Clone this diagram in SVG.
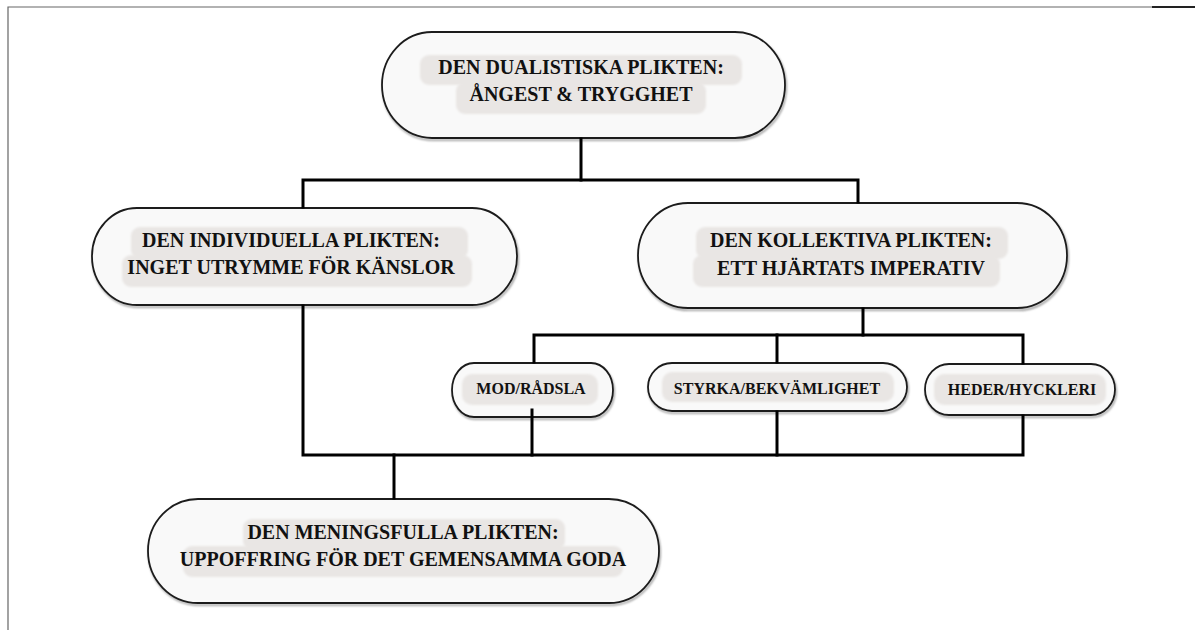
<svg xmlns="http://www.w3.org/2000/svg" width="1195" height="630" viewBox="0 0 1195 630">
<defs>
<filter id="soft" x="-10%" y="-30%" width="120%" height="160%"><feGaussianBlur stdDeviation="1.2"/></filter>
<filter id="shadow" x="-10%" y="-10%" width="120%" height="130%"><feGaussianBlur stdDeviation="0.8"/></filter>
</defs>
<style>
.node{fill:#f9f9f9;stroke:#1c1c1c;stroke-width:1.8}
.shd{fill:none;stroke:#888;stroke-width:1.6;filter:url(#shadow)}
.bg{fill:#e9e6e4;filter:url(#soft)}
.t{font-family:"Liberation Serif","Times New Roman",serif;font-weight:bold;font-size:20px;fill:#111;text-anchor:middle}
.ts{font-size:16px}
.c{fill:none;stroke:#000;stroke-width:3;stroke-linecap:square}
.frame{fill:none;stroke:#666;stroke-width:1.2}
</style>
<rect width="1195" height="630" fill="#fff"/>
<g id="frame">
<path class="frame" d="M8,630 V7 H1195"/>
<path d="M1152,7 H1195" stroke="#222" stroke-width="2"/>
</g>

<g id="n-top">
<rect class="shd" x="383" y="34" width="403" height="106" rx="50" ry="53"/>
<rect class="node" x="382" y="32" width="403" height="106" rx="50" ry="53"/>
<rect class="bg" x="420" y="55" width="322" height="30" rx="9"/>
<rect class="bg" x="456" y="82" width="250" height="32" rx="9"/>
<text class="t" x="581" y="74">DEN DUALISTISKA PLIKTEN:</text>
<text class="t" x="581" y="101">ÅNGEST &amp; TRYGGHET</text>
</g>

<g id="n-left">
<rect class="shd" x="93" y="210" width="425" height="97" rx="45" ry="48.5"/>
<rect class="node" x="92" y="208" width="425" height="97" rx="45" ry="48.5"/>
<rect class="bg" x="131" y="227" width="337" height="32" rx="9"/>
<rect class="bg" x="122" y="255" width="350" height="32" rx="9"/>
<text class="t" x="291" y="247">DEN INDIVIDUELLA PLIKTEN:</text>
<text class="t" x="291" y="274">INGET UTRYMME FÖR KÄNSLOR</text>
</g>

<g id="n-right">
<rect class="shd" x="639" y="205" width="429" height="105" rx="50" ry="52.5"/>
<rect class="node" x="638" y="203" width="429" height="105" rx="50" ry="52.5"/>
<rect class="bg" x="696" y="227" width="312" height="32" rx="9"/>
<rect class="bg" x="693" y="255" width="307" height="32" rx="9"/>
<text class="t" x="851" y="247">DEN KOLLEKTIVA PLIKTEN:</text>
<text class="t" x="851" y="275">ETT HJÄRTATS IMPERATIV</text>
</g>

<g id="n-mod">
<rect class="shd" x="453" y="365" width="161" height="54" rx="22" ry="27"/>
<rect class="node" x="452" y="363" width="161" height="54" rx="22" ry="27"/>
<rect class="bg" x="462" y="374" width="136" height="31" rx="10"/>
<text class="t ts" x="531" y="394">MOD/RÅDSLA</text>
</g>

<g id="n-styrka">
<rect class="shd" x="649" y="365" width="259" height="48" rx="24" ry="24"/>
<rect class="node" x="648" y="363" width="259" height="48" rx="24" ry="24"/>
<rect class="bg" x="662" y="372" width="232" height="30" rx="10"/>
<text class="t ts" x="777" y="394">STYRKA/BEKVÄMLIGHET</text>
</g>

<g id="n-heder">
<rect class="shd" x="926" y="366" width="190" height="51" rx="24" ry="25.5"/>
<rect class="node" x="925" y="364" width="190" height="51" rx="24" ry="25.5"/>
<rect class="bg" x="934" y="374" width="172" height="31" rx="10"/>
<text class="t ts" x="1022" y="395">HEDER/HYCKLERI</text>
</g>

<g id="n-bottom">
<rect class="shd" x="149" y="501" width="511" height="104" rx="50" ry="52"/>
<rect class="node" x="148" y="499" width="511" height="104" rx="50" ry="52"/>
<rect class="bg" x="243" y="519" width="322" height="31" rx="9"/>
<rect class="bg" x="183" y="546" width="440" height="31" rx="9"/>
<text class="t" x="403" y="539">DEN MENINGSFULLA PLIKTEN:</text>
<text class="t" x="403" y="566">UPPOFFRING FÖR DET GEMENSAMMA GODA</text>
</g>

<g id="connectors">
<path class="c" d="M581,139 V180"/>
<path class="c" d="M303,207 V180 H858 V202"/>
<path class="c" d="M863,309 V335"/>
<path class="c" d="M534,362 V335 H1023 V363"/>
<path class="c" d="M777,335 V362"/>
<path class="c" d="M303,306 V455 H1023 V416"/>
<path class="c" d="M532,410 V455"/>
<path class="c" d="M777,412 V455"/>
<path class="c" d="M394,455 V498"/>
</g>
</svg>
